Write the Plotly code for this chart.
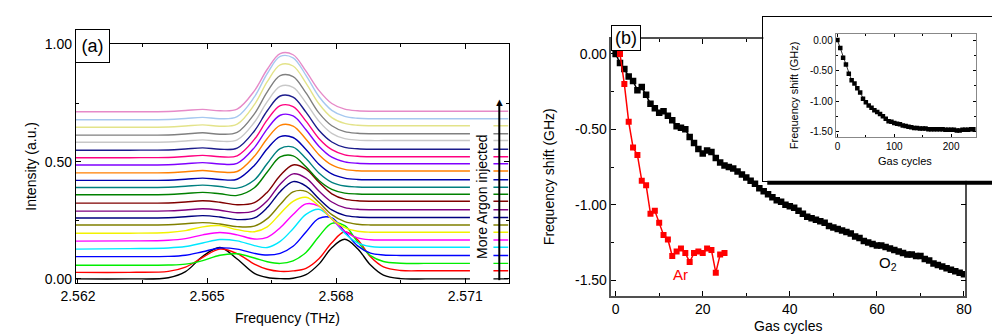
import plotly.graph_objects as go

# ---------------- Panel (a): spectra ----------------
freq_thz = [2.5619, 2.5632, 2.5641, 2.5645, 2.5649, 2.5653, 2.5657, 2.5661, 2.5664, 2.5667, 2.5670,
            2.5673, 2.5676, 2.5679, 2.5682, 2.5685, 2.5688, 2.5691, 2.5695, 2.5701, 2.5710, 2.5720]

s00 = [0.000, 0.000, 0.005, 0.031, 0.096, 0.134, 0.085, 0.024, 0.006, 0.001, 0.003, 0.018, 0.063, 0.133, 0.169, 0.129, 0.059, 0.016, 0.001, 0.000, 0.000, 0.000]
s01 = [0.028, 0.028, 0.032, 0.050, 0.092, 0.127, 0.108, 0.063, 0.041, 0.032, 0.034, 0.045, 0.086, 0.154, 0.201, 0.167, 0.094, 0.051, 0.036, 0.035, 0.035, 0.035]
s02 = [0.058, 0.058, 0.059, 0.063, 0.078, 0.101, 0.107, 0.089, 0.073, 0.066, 0.077, 0.113, 0.181, 0.237, 0.227, 0.158, 0.099, 0.074, 0.067, 0.066, 0.066, 0.066]
s03 = [0.095, 0.095, 0.096, 0.101, 0.116, 0.132, 0.127, 0.109, 0.102, 0.109, 0.139, 0.200, 0.258, 0.260, 0.202, 0.141, 0.110, 0.102, 0.100, 0.100, 0.100, 0.100]
s04 = [0.127, 0.129, 0.132, 0.138, 0.153, 0.168, 0.162, 0.142, 0.134, 0.160, 0.214, 0.275, 0.297, 0.257, 0.195, 0.154, 0.138, 0.135, 0.135, 0.135, 0.135, 0.135]
s05 = [0.161, 0.162, 0.165, 0.172, 0.188, 0.198, 0.188, 0.170, 0.177, 0.218, 0.275, 0.320, 0.310, 0.255, 0.203, 0.175, 0.167, 0.166, 0.166, 0.166, 0.166, 0.166]
s06 = [0.195, 0.195, 0.198, 0.206, 0.222, 0.227, 0.210, 0.201, 0.222, 0.278, 0.331, 0.348, 0.312, 0.256, 0.219, 0.203, 0.199, 0.199, 0.199, 0.199, 0.199, 0.199]
s07 = [0.230, 0.230, 0.231, 0.235, 0.240, 0.234, 0.223, 0.225, 0.257, 0.317, 0.371, 0.373, 0.327, 0.274, 0.244, 0.233, 0.230, 0.230, 0.230, 0.230, 0.230, 0.230]
s08 = [0.260, 0.260, 0.261, 0.265, 0.270, 0.264, 0.253, 0.260, 0.304, 0.372, 0.415, 0.396, 0.342, 0.294, 0.271, 0.264, 0.262, 0.262, 0.262, 0.262, 0.262, 0.262]
s09 = [0.289, 0.289, 0.290, 0.294, 0.299, 0.293, 0.282, 0.290, 0.333, 0.404, 0.448, 0.430, 0.375, 0.328, 0.304, 0.297, 0.295, 0.295, 0.295, 0.295, 0.295, 0.295]
s10 = [0.323, 0.323, 0.324, 0.328, 0.333, 0.327, 0.316, 0.325, 0.370, 0.441, 0.486, 0.468, 0.412, 0.363, 0.340, 0.333, 0.331, 0.331, 0.331, 0.331, 0.331, 0.331]
s11 = [0.359, 0.359, 0.360, 0.364, 0.369, 0.363, 0.356, 0.389, 0.456, 0.520, 0.525, 0.478, 0.420, 0.382, 0.366, 0.362, 0.361, 0.361, 0.361, 0.361, 0.361, 0.361]
s12 = [0.390, 0.390, 0.391, 0.395, 0.400, 0.394, 0.387, 0.422, 0.492, 0.556, 0.562, 0.513, 0.452, 0.412, 0.396, 0.392, 0.391, 0.391, 0.391, 0.391, 0.391, 0.391]
s13 = [0.420, 0.420, 0.421, 0.425, 0.430, 0.424, 0.425, 0.484, 0.555, 0.607, 0.603, 0.552, 0.489, 0.448, 0.430, 0.424, 0.423, 0.423, 0.423, 0.423, 0.423, 0.423]
s14 = [0.452, 0.452, 0.453, 0.457, 0.462, 0.456, 0.458, 0.523, 0.599, 0.655, 0.652, 0.596, 0.530, 0.486, 0.467, 0.461, 0.460, 0.460, 0.460, 0.460, 0.460, 0.460]
s15 = [0.486, 0.486, 0.487, 0.491, 0.496, 0.490, 0.493, 0.560, 0.640, 0.698, 0.695, 0.636, 0.566, 0.519, 0.499, 0.493, 0.491, 0.491, 0.491, 0.491, 0.491, 0.491]
s16 = [0.517, 0.517, 0.518, 0.522, 0.527, 0.521, 0.525, 0.595, 0.678, 0.739, 0.735, 0.673, 0.599, 0.551, 0.529, 0.523, 0.521, 0.521, 0.521, 0.521, 0.521, 0.521]
s17 = [0.549, 0.549, 0.550, 0.554, 0.559, 0.553, 0.558, 0.631, 0.717, 0.780, 0.775, 0.711, 0.634, 0.584, 0.561, 0.555, 0.553, 0.553, 0.553, 0.553, 0.553, 0.553]
s18 = [0.583, 0.583, 0.584, 0.588, 0.593, 0.587, 0.593, 0.668, 0.756, 0.821, 0.817, 0.751, 0.673, 0.621, 0.598, 0.592, 0.590, 0.590, 0.590, 0.590, 0.590, 0.590]
s19 = [0.613, 0.613, 0.614, 0.618, 0.623, 0.617, 0.625, 0.704, 0.798, 0.867, 0.863, 0.793, 0.708, 0.653, 0.628, 0.621, 0.619, 0.619, 0.619, 0.619, 0.619, 0.619]
s20 = [0.647, 0.647, 0.648, 0.652, 0.657, 0.651, 0.660, 0.743, 0.841, 0.913, 0.908, 0.835, 0.747, 0.688, 0.663, 0.655, 0.653, 0.653, 0.653, 0.653, 0.653, 0.653]
s21 = [0.679, 0.679, 0.680, 0.684, 0.689, 0.683, 0.692, 0.776, 0.876, 0.949, 0.943, 0.868, 0.778, 0.719, 0.693, 0.685, 0.683, 0.683, 0.683, 0.683, 0.683, 0.683]
s22 = [0.713, 0.713, 0.714, 0.718, 0.723, 0.717, 0.724, 0.802, 0.894, 0.961, 0.956, 0.886, 0.804, 0.748, 0.724, 0.717, 0.715, 0.715, 0.715, 0.715, 0.715, 0.715]

spectra = [s00, s01, s02, s03, s04, s05, s06, s07, s08, s09, s10, s11,
           s12, s13, s14, s15, s16, s17, s18, s19, s20, s21, s22]

spectrum_colors = ['#000000', '#ff0000', '#00ee00', '#0000ff', '#00e8ff', '#ff00ff', '#f2f200',
                   '#808000', '#000080', '#800080', '#800000', '#008000', '#008080', '#0000b0',
                   '#ff8000', '#8000ff', '#ff0080', '#1c1c8c', '#c8c8c8', '#808080', '#e3e38a',
                   '#a6c8f0', '#e68ac8']

a_xticks = [2.562, 2.565, 2.568, 2.571]
a_xminor = [2.5635, 2.5665, 2.5695]
a_yticks = [0.0, 0.5, 1.0]
a_yminor = [0.25, 0.75]

# ---------------- Panel (b): frequency shift vs gas cycles ----------------
o2_cycles = list(range(0, 81))
o2_shift = [0.00, -0.06, -0.10, -0.15, -0.18, -0.24, -0.22, -0.27, -0.33, -0.36,
            -0.39, -0.38, -0.41, -0.44, -0.48, -0.49, -0.50, -0.55, -0.59, -0.63,
            -0.66, -0.64, -0.65, -0.69, -0.72, -0.74, -0.75, -0.76, -0.78, -0.80,
            -0.82, -0.84, -0.86, -0.89, -0.91, -0.93, -0.95, -0.97, -0.98, -1.00,
            -1.01, -1.02, -1.04, -1.06, -1.08, -1.09, -1.10, -1.11, -1.12, -1.14,
            -1.15, -1.16, -1.17, -1.18, -1.19, -1.21, -1.22, -1.24, -1.25, -1.26,
            -1.27, -1.27, -1.28, -1.29, -1.30, -1.31, -1.32, -1.33, -1.33, -1.34,
            -1.34, -1.36, -1.37, -1.39, -1.40, -1.41, -1.42, -1.43, -1.44, -1.45,
            -1.46]

ar_cycles = list(range(1, 26))
ar_shift = [0.00, -0.20, -0.45, -0.62, -0.67, -0.84, -0.87, -1.06, -1.04, -1.12,
            -1.20, -1.23, -1.34, -1.31, -1.29, -1.32, -1.38, -1.32, -1.31, -1.32,
            -1.29, -1.30, -1.45, -1.33, -1.32]

b_xticks = [0, 20, 40, 60, 80]
b_xminor = [10, 30, 50, 70]
b_yticks = [-1.5, -1.0, -0.5, 0.0]
b_yticklabels = ['-1.50', '-1.00', '-0.50', '0.00']
b_yminor = [-1.25, -0.75, -0.25]

# ---------------- Inset ----------------
inset_cycles = list(range(0, 245, 5))
inset_shift = [0.00, -0.13, -0.29, -0.40, -0.55, -0.66, -0.71, -0.79, -0.86, -0.96,
               -1.02, -1.07, -1.11, -1.15, -1.18, -1.21, -1.25, -1.29, -1.33, -1.34,
               -1.36, -1.37, -1.38, -1.40, -1.41, -1.42, -1.43, -1.44, -1.44, -1.45,
               -1.45, -1.45, -1.46, -1.46, -1.46, -1.46, -1.46, -1.46, -1.47, -1.47,
               -1.47, -1.47, -1.48, -1.48, -1.47, -1.47, -1.47, -1.46, -1.46]
inset_xticks = [0, 100, 200]
inset_xminor = [50, 150]

# ---------------- Layout helpers ----------------
W, H = 1000, 334
FONT = 'Liberation Sans, Arial, sans-serif'


def fx(p):
    return p / W


def fy(p):
    return 1 - p / H


def axis(domain, rng, anchor, linecolor='black', lw=1, size=14, ticklen=5, mticklen=3, **kw):
    d = dict(domain=domain, range=rng, anchor=anchor, showline=True, mirror='allticks',
             linecolor=linecolor, linewidth=lw, ticks='inside', ticklen=ticklen, tickwidth=1,
             tickcolor='black', showgrid=False, zeroline=False, fixedrange=True,
             tickfont=dict(family=FONT, size=size, color='black'))
    d.update(kw)
    if 'minor' in d:
        d['minor'] = dict(ticks='inside', ticklen=mticklen, tickwidth=1, tickcolor='black',
                          showgrid=False, tickvals=d['minor'])
    return d


fig = go.Figure()

for vals, col in zip(spectra, spectrum_colors):
    fig.add_trace(go.Scatter(x=freq_thz, y=vals, mode='lines', xaxis='x', yaxis='y',
                             line=dict(color=col, width=1.4, shape='spline', smoothing=1.0),
                             showlegend=False, hoverinfo='skip'))

fig.add_trace(go.Scatter(x=o2_cycles, y=o2_shift, mode='lines+markers', xaxis='x2', yaxis='y2',
                         line=dict(color='black', width=1.5),
                         marker=dict(symbol='square', size=6.5, color='black'),
                         showlegend=False, hoverinfo='skip'))
fig.add_trace(go.Scatter(x=ar_cycles, y=ar_shift, mode='lines+markers', xaxis='x2', yaxis='y2',
                         line=dict(color='#ff0000', width=1.5),
                         marker=dict(symbol='square', size=6, color='#ff0000'),
                         showlegend=False, hoverinfo='skip'))

# frame subplot for the inset (white background box)
fig.add_trace(go.Scatter(x=[0.5], y=[0.5], mode='markers', xaxis='x3', yaxis='y3',
                         marker=dict(opacity=0), showlegend=False, hoverinfo='skip'))

fig.add_trace(go.Scatter(x=inset_cycles, y=inset_shift, mode='lines+markers', xaxis='x4', yaxis='y4',
                         line=dict(color='black', width=0.8),
                         marker=dict(symbol='square', size=4.5, color='black'),
                         showlegend=False, hoverinfo='skip'))

layout = dict(
    width=W, height=H, autosize=False,
    margin=dict(l=0, r=0, t=0, b=0, pad=0),
    paper_bgcolor='white', plot_bgcolor='white',
    font=dict(family=FONT, size=14, color='black'),
    showlegend=False,
    xaxis=axis([fx(54), fx(497)], [2.56195, 2.57202], 'y', tickvals=a_xticks,
               ticktext=['2.562', '2.565', '2.568', '2.571'], minor=a_xminor),
    yaxis=axis([fy(277), fy(29)], [-0.0177, 1.002], 'x', tickvals=a_yticks,
               ticktext=['0.00', '0.50', '1.00'], minor=a_yminor),
    xaxis2=axis([fx(601.7), fx(963.5)], [-0.96, 80.3], 'y2', linecolor='#505050', lw=1.5,
                tickvals=b_xticks, ticktext=[str(v) for v in b_xticks], minor=b_xminor),
    yaxis2=axis([fy(290), fy(24)], [-1.602, 0.098], 'x2', linecolor='#505050', lw=1.5,
                tickvals=b_yticks, ticktext=b_yticklabels, minor=b_yminor),
    xaxis3=dict(domain=[fx(757), fx(996)], range=[0, 1], anchor='y3', showline=True, mirror=True,
                linecolor='black', linewidth=1, ticks='', showticklabels=False, showgrid=False,
                zeroline=False, fixedrange=True),
    yaxis3=dict(domain=[fy(171), fy(1)], range=[0, 1], anchor='x3', showline=True, mirror=True,
                linecolor='black', linewidth=1, ticks='', showticklabels=False, showgrid=False,
                zeroline=False, fixedrange=True),
    xaxis4=axis([fx(831), fx(974)], [-3, 243], 'y4', linecolor='#888888', size=10, ticklen=3,
                mticklen=2, tickvals=inset_xticks, ticktext=[str(v) for v in inset_xticks],
                minor=inset_xminor),
    yaxis4=axis([fy(126), fy(18.3)], [-1.596, 0.106], 'x4', linecolor='#888888', size=10,
                ticklen=3, mticklen=2, tickvals=b_yticks, ticktext=b_yticklabels, minor=b_yminor),
)

shapes = [
    # white background behind the rotated label in panel (a)
    dict(type='rect', xref='paper', yref='paper', x0=fx(457), x1=fx(481), y0=fy(276), y1=fy(109),
         fillcolor='white', line=dict(width=0), layer='above'),
    # shadow of the inset frame
    dict(type='rect', xref='paper', yref='paper', x0=fx(996), x1=fx(999.5), y0=fy(175), y1=fy(5),
         fillcolor='black', line=dict(width=0), layer='above'),
    dict(type='rect', xref='paper', yref='paper', x0=fx(761), x1=fx(999.5), y0=fy(175), y1=fy(171),
         fillcolor='black', line=dict(width=0), layer='above'),
    # upward arrow shaft in panel (a)
    dict(type='line', xref='paper', yref='paper', x0=fx(487), x1=fx(487), y0=fy(274), y1=fy(92),
         line=dict(color='black', width=2), layer='above'),
]


def text(x, y, t, size=14, color='black', angle=0, **kw):
    d = dict(xref='paper', yref='paper', x=fx(x), y=fy(y), text=t, showarrow=False,
             xanchor='center', yanchor='middle', textangle=angle,
             font=dict(family=FONT, size=size, color=color))
    d.update(kw)
    return d


annotations = [
    text(71, 31.5, '(a)', size=18, bgcolor='white', bordercolor='black', borderwidth=1,
         width=31, height=30, borderpad=1),
    text(616.3, 23.3, '(b)', size=18, bgcolor='white', bordercolor='black', borderwidth=1,
         width=26, height=22, borderpad=1),
    text(8.5, 156, 'Intensity (a.u.)', angle=-90),
    text(270, 313, 'Frequency (THz)'),
    text(538, 167, 'Frequency shift (GHz)', angle=-90),
    text(782, 322, 'Gas cycles'),
    text(788, 82.5, 'Frequency shift (GHz)', size=11, angle=-90),
    text(902, 150, 'Gas cycles', size=11),
    text(470, 187, 'More Argon injected', angle=-90),
    text(672, 268, 'Ar', size=15, color='#ff0000'),
    text(884, 257, 'O<sub>2</sub>', size=15),
    # arrow head (triangle glyph) on top of the shaft
    text(487, 89, '▲', size=11, yanchor='middle'),
]

layout['shapes'] = shapes
layout['annotations'] = annotations
fig.update_layout(**layout)

fig.write_html('out.html', include_plotlyjs=True, config={'displayModeBar': False})
